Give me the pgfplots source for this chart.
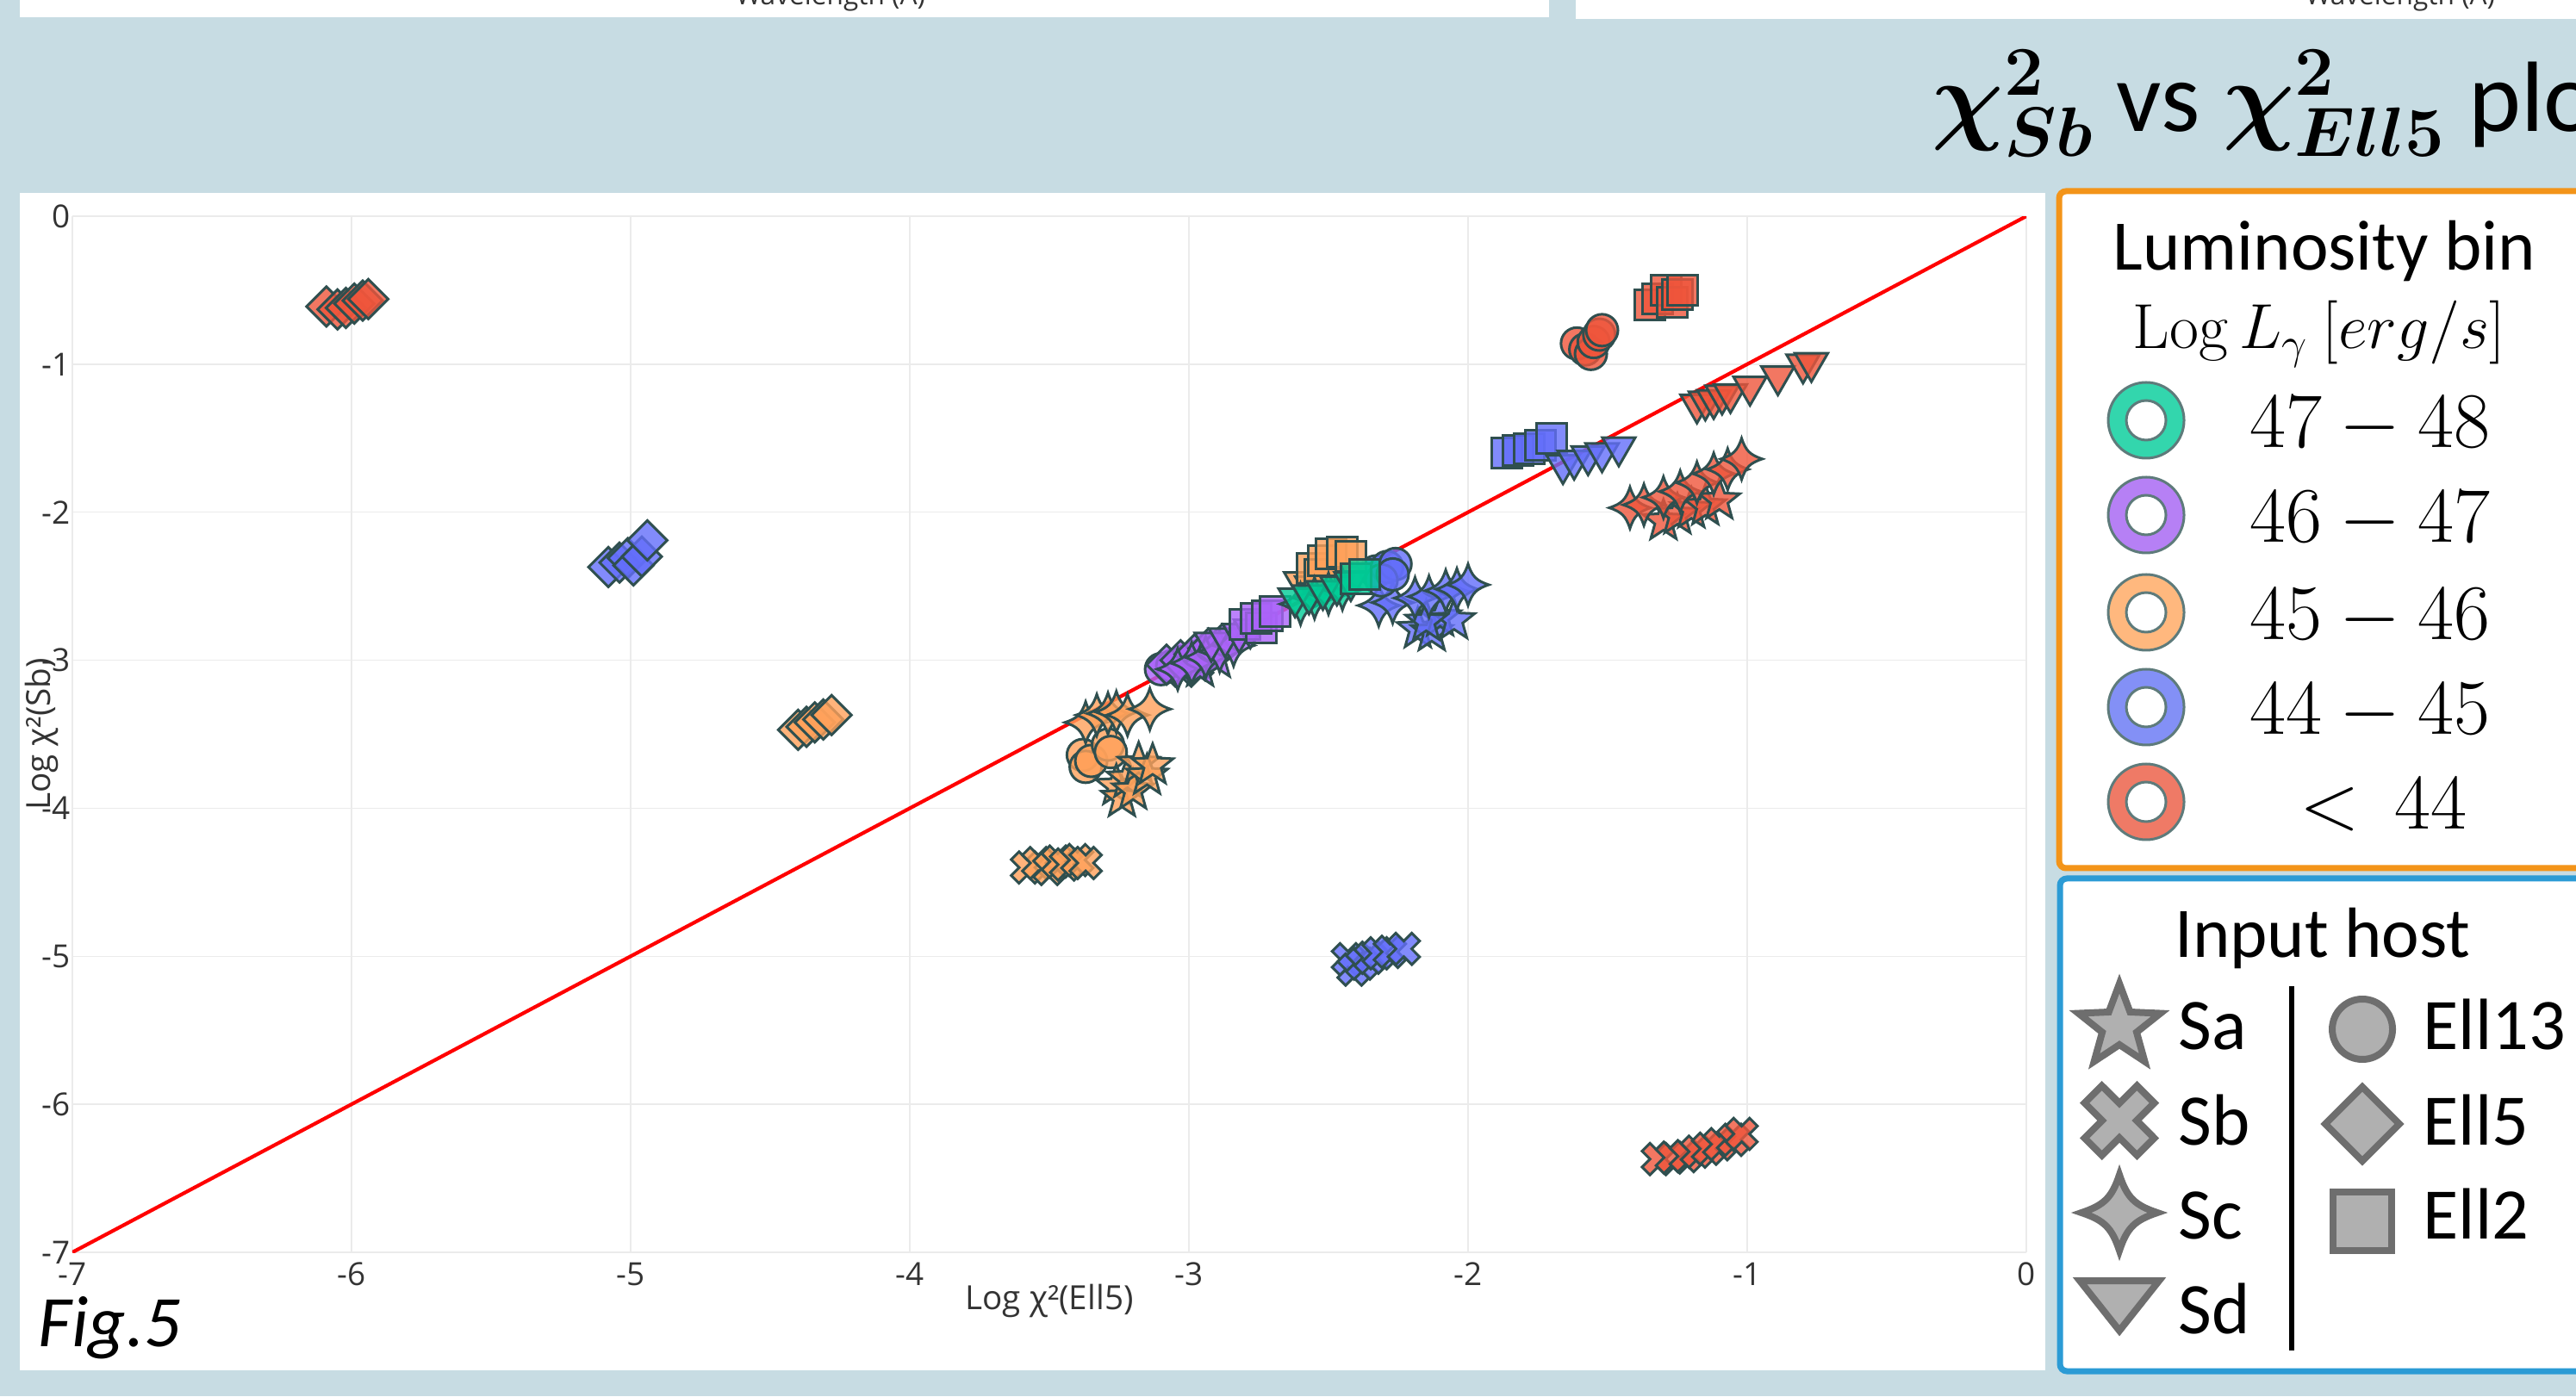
\documentclass[border=0pt]{standalone}
\usepackage{fix-cm}
\usepackage[no-math]{fontspec}
\setmainfont{Carlito}
\newfontfamily\opensans{Open Sans}
\usepackage{bm}
\usepackage{pgfplots}
\pgfplotsset{compat=1.18}

\definecolor{bg}{RGB}{199,220,227}
\definecolor{pgreen}{HTML}{00CC96}
\definecolor{ppurple}{HTML}{AB63FA}
\definecolor{porange}{HTML}{FFA15A}
\definecolor{pblue}{HTML}{636EFA}
\definecolor{pred}{HTML}{EF553B}
\definecolor{mline}{HTML}{2F4F4F}
\definecolor{lgreen}{HTML}{33D6AD}
\definecolor{lpurple}{HTML}{B680F5}
\definecolor{lorange}{HTML}{FFB87E}
\definecolor{lblue}{HTML}{8390F6}
\definecolor{lred}{HTML}{EF7A66}
\definecolor{ringline}{HTML}{5E7B7B}
\definecolor{hostfill}{HTML}{B0B0B0}
\definecolor{hostline}{HTML}{6E6E6E}
\definecolor{boxorange}{HTML}{F39419}
\definecolor{boxblue}{HTML}{2B9BD5}
\definecolor{gridc}{HTML}{EBEBEB}
\definecolor{tickc}{HTML}{333333}

% custom marks
\pgfdeclareplotmark{dmd}{%
  \pgfpathmoveto{\pgfqpoint{0pt}{\pgfplotmarksize}}%
  \pgfpathlineto{\pgfqpoint{\pgfplotmarksize}{0pt}}%
  \pgfpathlineto{\pgfqpoint{0pt}{-\pgfplotmarksize}}%
  \pgfpathlineto{\pgfqpoint{-\pgfplotmarksize}{0pt}}%
  \pgfpathclose\pgfusepathqfillstroke}
\pgfdeclareplotmark{tridown}{%
  \pgfpathmoveto{\pgfqpoint{0pt}{-\pgfplotmarksize}}%
  \pgfpathlineto{\pgfqpoint{0.866\pgfplotmarksize}{0.5\pgfplotmarksize}}%
  \pgfpathlineto{\pgfqpoint{-0.866\pgfplotmarksize}{0.5\pgfplotmarksize}}%
  \pgfpathclose\pgfusepathqfillstroke}
\pgfdeclareplotmark{fivestar}{%
  \pgfpathmoveto{\pgfqpoint{0pt}{\pgfplotmarksize}}%
  \pgfpathlineto{\pgfqpoint{-0.247\pgfplotmarksize}{0.340\pgfplotmarksize}}%
  \pgfpathlineto{\pgfqpoint{-0.951\pgfplotmarksize}{0.309\pgfplotmarksize}}%
  \pgfpathlineto{\pgfqpoint{-0.399\pgfplotmarksize}{-0.130\pgfplotmarksize}}%
  \pgfpathlineto{\pgfqpoint{-0.588\pgfplotmarksize}{-0.809\pgfplotmarksize}}%
  \pgfpathlineto{\pgfqpoint{0pt}{-0.42\pgfplotmarksize}}%
  \pgfpathlineto{\pgfqpoint{0.588\pgfplotmarksize}{-0.809\pgfplotmarksize}}%
  \pgfpathlineto{\pgfqpoint{0.399\pgfplotmarksize}{-0.130\pgfplotmarksize}}%
  \pgfpathlineto{\pgfqpoint{0.951\pgfplotmarksize}{0.309\pgfplotmarksize}}%
  \pgfpathlineto{\pgfqpoint{0.247\pgfplotmarksize}{0.340\pgfplotmarksize}}%
  \pgfpathclose\pgfusepathqfillstroke}
\pgfdeclareplotmark{fatx}{%
  \pgfpathmoveto{\pgfqpoint{-0.474\pgfplotmarksize}{0.940\pgfplotmarksize}}%
  \pgfpathlineto{\pgfqpoint{-0.940\pgfplotmarksize}{0.474\pgfplotmarksize}}%
  \pgfpathlineto{\pgfqpoint{-0.467\pgfplotmarksize}{0pt}}%
  \pgfpathlineto{\pgfqpoint{-0.940\pgfplotmarksize}{-0.474\pgfplotmarksize}}%
  \pgfpathlineto{\pgfqpoint{-0.474\pgfplotmarksize}{-0.940\pgfplotmarksize}}%
  \pgfpathlineto{\pgfqpoint{0pt}{-0.467\pgfplotmarksize}}%
  \pgfpathlineto{\pgfqpoint{0.474\pgfplotmarksize}{-0.940\pgfplotmarksize}}%
  \pgfpathlineto{\pgfqpoint{0.940\pgfplotmarksize}{-0.474\pgfplotmarksize}}%
  \pgfpathlineto{\pgfqpoint{0.467\pgfplotmarksize}{0pt}}%
  \pgfpathlineto{\pgfqpoint{0.940\pgfplotmarksize}{0.474\pgfplotmarksize}}%
  \pgfpathlineto{\pgfqpoint{0.474\pgfplotmarksize}{0.940\pgfplotmarksize}}%
  \pgfpathlineto{\pgfqpoint{0pt}{0.467\pgfplotmarksize}}%
  \pgfpathclose\pgfusepathqfillstroke}
\pgfdeclareplotmark{scstar}{%
  \pgfpathmoveto{\pgfqpoint{0pt}{\pgfplotmarksize}}%
  \pgfpathcurveto{\pgfqpoint{0.2\pgfplotmarksize}{0.4\pgfplotmarksize}}{\pgfqpoint{0.4\pgfplotmarksize}{0.2\pgfplotmarksize}}{\pgfqpoint{\pgfplotmarksize}{0pt}}%
  \pgfpathcurveto{\pgfqpoint{0.4\pgfplotmarksize}{-0.2\pgfplotmarksize}}{\pgfqpoint{0.2\pgfplotmarksize}{-0.4\pgfplotmarksize}}{\pgfqpoint{0pt}{-\pgfplotmarksize}}%
  \pgfpathcurveto{\pgfqpoint{-0.2\pgfplotmarksize}{-0.4\pgfplotmarksize}}{\pgfqpoint{-0.4\pgfplotmarksize}{-0.2\pgfplotmarksize}}{\pgfqpoint{-\pgfplotmarksize}{0pt}}%
  \pgfpathcurveto{\pgfqpoint{-0.4\pgfplotmarksize}{0.2\pgfplotmarksize}}{\pgfqpoint{-0.2\pgfplotmarksize}{0.4\pgfplotmarksize}}{\pgfqpoint{0pt}{\pgfplotmarksize}}%
  \pgfpathclose\pgfusepathqfillstroke}

\pgfplotsset{
  mk/.style={only marks, color=mline, line width=0.3mm, mark options={fill=#1, fill opacity=0.8, solid}},
  Ell13/.style={mark=*, mark size=1.85mm},
  Ell5/.style={mark=dmd, mark size=2.3mm},
  Ell2/.style={mark=square*, mark size=1.75mm},
  Sa/.style={mark=fivestar, mark size=2.5mm},
  Sb/.style={mark=fatx, mark size=1.95mm},
  Sc/.style={mark=scstar, mark size=2.4mm},
  Sd/.style={mark=tridown, mark size=2.2mm},
}

\begin{document}
\begin{tikzpicture}
\begin{scope}[x=0.1mm,y=0.1mm]
  \fill[bg] (0,0) rectangle (2990,1621);
  \fill[white] (23,1601) rectangle (1798,1621);
  \fill[white] (1829,1599) rectangle (2990,1621);
  \node[anchor=base, font=\opensans\fontsize{9}{10}\selectfont, text=tickc, inner sep=0] at (964,1615) {Wavelength (Å)};
  \node[anchor=base, font=\opensans\fontsize{9}{10}\selectfont, text=tickc, inner sep=0] at (2786,1615) {Wavelength (Å)};
  \fill[white] (23,30) rectangle (2374,1397);
  % title
  \node[anchor=base west, font=\fontsize{33}{38}\selectfont, inner sep=0] at (2242,1468)
    {$\bm{\chi}^{\bm{2}}_{\bm{Sb}}$ vs $\bm{\chi}^{\bm{2}}_{\bm{Ell5}}$ plot};
  \node[anchor=base west, font=\fontsize{24}{28}\selectfont\itshape, inner sep=0] at (44,58) {Fig.5};
\end{scope}

\begin{axis}[
  at={(8.4mm,16.7mm)}, anchor=south west,
  scale only axis, width=226.8mm, height=120.3mm,
  xmin=-7, xmax=0, ymin=-7, ymax=0,
  axis line style={draw=none},
  major tick length=0pt,
  grid=major, grid style={color=gridc, line width=0.15mm},
  xtick={-7,-6,-5,-4,-3,-2,-1,0}, ytick={-7,-6,-5,-4,-3,-2,-1,0},
  xticklabels={-7,-6,-5,-4,-3,-2,-1,0},
  yticklabels={-7,-6,-5,-4,-3,-2,-1,0},
  ticklabel style={font=\opensans\fontsize{10.5}{12}\selectfont, text=tickc},
  xticklabel style={anchor=north, inner sep=0pt, yshift=-1.1mm},
  yticklabel style={anchor=east, inner sep=0pt, xshift=-0.2mm},
  xlabel={Log χ²(Ell5)}, ylabel={Log χ²(Sb)},
  every axis x label/.style={at={(axis description cs:0.5,0)}, anchor=center, yshift=-5.6mm, font=\opensans\fontsize{11}{13}\selectfont, text=tickc},
  every axis y label/.style={at={(axis description cs:0,0.5)}, xshift=-3.6mm, anchor=center, rotate=90, font=\opensans\fontsize{11}{13}\selectfont, text=tickc},
]
% ---- < 44 (red)
\addplot[mk=pred, Ell5] coordinates {(-6.09,-0.61) (-6.05,-0.63) (-6.02,-0.62) (-5.99,-0.59) (-5.96,-0.57) (-5.94,-0.56)};
\addplot[mk=pred, Ell13] coordinates {(-1.61,-0.86) (-1.58,-0.90) (-1.56,-0.93) (-1.55,-0.85) (-1.53,-0.80) (-1.52,-0.77)};
\addplot[mk=pred, Ell2] coordinates {(-1.35,-0.60) (-1.32,-0.56) (-1.29,-0.50) (-1.27,-0.58) (-1.25,-0.53) (-1.23,-0.50)};
\addplot[mk=pred, Sd] coordinates {(-1.18,-1.27) (-1.15,-1.25) (-1.12,-1.24) (-1.09,-1.21) (-1.06,-1.20) (-0.99,-1.15) (-0.89,-1.08) (-0.80,-1.00) (-0.77,-0.99)};
\addplot[mk=pred, Sa] coordinates {(-1.30,-2.06) (-1.25,-2.02) (-1.20,-1.98) (-1.15,-1.96) (-1.10,-1.92)};
\addplot[mk=pred, Sc] coordinates {(-1.42,-1.97) (-1.37,-1.95) (-1.30,-1.90) (-1.24,-1.86) (-1.18,-1.80) (-1.12,-1.74) (-1.07,-1.71) (-1.02,-1.64)};
\addplot[mk=pred, Sb] coordinates {(-1.32,-6.37) (-1.27,-6.36) (-1.22,-6.35) (-1.18,-6.32) (-1.14,-6.30) (-1.10,-6.27) (-1.05,-6.24) (-1.02,-6.20)};
% ---- 44-45 (blue)
\addplot[mk=pblue, Ell5] coordinates {(-5.08,-2.37) (-5.04,-2.34) (-5.01,-2.31) (-4.99,-2.36) (-4.96,-2.30) (-4.94,-2.19)};
\addplot[mk=pblue, Sb] coordinates {(-2.43,-5.02) (-2.41,-5.09) (-2.38,-5.05) (-2.35,-5.01) (-2.32,-4.98) (-2.28,-4.97) (-2.23,-4.95)};
\addplot[mk=pblue, Ell2] coordinates {(-1.86,-1.60) (-1.82,-1.58) (-1.78,-1.57) (-1.74,-1.55) (-1.70,-1.50)};
\addplot[mk=pblue, Sd] coordinates {(-1.66,-1.68) (-1.62,-1.65) (-1.57,-1.62) (-1.52,-1.60) (-1.46,-1.56)};
\addplot[mk=pblue, Sa] coordinates {(-2.18,-2.79) (-2.13,-2.81) (-2.10,-2.71) (-2.05,-2.73) (-2.15,-2.74)};
\addplot[mk=pblue, Sc] coordinates {(-2.32,-2.63) (-2.27,-2.61) (-2.19,-2.58) (-2.14,-2.57) (-2.08,-2.53) (-2.04,-2.52) (-2.00,-2.49)};
\addplot[mk=pblue, Ell13] coordinates {(-2.33,-2.40) (-2.29,-2.37) (-2.26,-2.35) (-2.31,-2.46) (-2.27,-2.42)};
% ---- 45-46 (orange)
\addplot[mk=porange, Ell5] coordinates {(-4.40,-3.47) (-4.37,-3.45) (-4.34,-3.42) (-4.31,-3.40) (-4.28,-3.37)};
\addplot[mk=porange, Sb] coordinates {(-3.58,-4.40) (-3.54,-4.37) (-3.50,-4.41) (-3.47,-4.36) (-3.44,-4.38) (-3.40,-4.35) (-3.37,-4.37)};
\addplot[mk=porange, Ell13] coordinates {(-3.38,-3.64) (-3.37,-3.72) (-3.35,-3.68) (-3.29,-3.57) (-3.28,-3.62)};
\addplot[mk=porange, Sa] coordinates {(-3.26,-3.85) (-3.24,-3.93) (-3.22,-3.80) (-3.20,-3.88) (-3.18,-3.70) (-3.15,-3.78) (-3.13,-3.71)};
\addplot[mk=porange, Sc] coordinates {(-3.37,-3.42) (-3.33,-3.37) (-3.29,-3.36) (-3.26,-3.35) (-3.22,-3.37) (-3.14,-3.33)};
\addplot[mk=porange, Sd] coordinates {(-2.60,-2.47) (-2.56,-2.50) (-2.52,-2.46)};
\addplot[mk=porange, Ell2] coordinates {(-2.56,-2.38) (-2.53,-2.42) (-2.52,-2.33) (-2.49,-2.28) (-2.45,-2.27) (-2.42,-2.30)};
% ---- 46-47 (purple)
\addplot[mk=ppurple, Sb] coordinates {(-3.02,-3.07) (-2.97,-3.03)};
\addplot[mk=ppurple, Ell13] coordinates {(-3.10,-3.06) (-3.06,-3.04) (-3.02,-3.01) (-2.98,-2.98) (-2.94,-2.95)};
\addplot[mk=ppurple, Ell5] coordinates {(-3.08,-3.03) (-3.03,-3.00) (-2.98,-2.96) (-2.93,-2.92) (-2.88,-2.89)};
\addplot[mk=ppurple, Sa] coordinates {(-2.96,-3.05) (-2.90,-2.99)};
\addplot[mk=ppurple, Sc] coordinates {(-3.04,-3.06) (-2.99,-3.02) (-2.94,-2.98) (-2.89,-2.94) (-2.84,-2.90)};
\addplot[mk=ppurple, Sd] coordinates {(-2.92,-2.88) (-2.87,-2.85) (-2.82,-2.82) (-2.78,-2.79)};
\addplot[mk=ppurple, Ell2] coordinates {(-2.80,-2.76) (-2.74,-2.78) (-2.76,-2.72) (-2.72,-2.70) (-2.69,-2.67)};
% ---- 47-48 (green)
\addplot[mk=pgreen, Sc] coordinates {(-2.60,-2.62) (-2.55,-2.58) (-2.50,-2.55) (-2.45,-2.52)};
\addplot[mk=pgreen, Sd] coordinates {(-2.62,-2.58) (-2.57,-2.56) (-2.52,-2.53) (-2.47,-2.50) (-2.42,-2.47)};
\addplot[mk=pgreen, Ell2] coordinates {(-2.40,-2.45) (-2.37,-2.42)};
% one-to-one line
\addplot[red, line width=0.42mm, no marks] coordinates {(-7,-7) (0,0)};
\end{axis}

\begin{scope}[x=0.1mm,y=0.1mm]
  % luminosity legend
  \draw[boxorange, line width=0.7mm, fill=white, rounded corners=0.8mm] (2390,613) rectangle (3010,1399);
  \node[anchor=base, font=\fontsize{23.5}{28}\selectfont, inner sep=0] at (2698,1307) {Luminosity bin};
  \node[anchor=base, font=\fontsize{21}{25}\selectfont, inner sep=0] at (2692,1216) {$\mathrm{Log}\,L_{\gamma}\ [erg/s]$};
  \foreach \yy/\cc/\lab in {1133/lgreen/{47-48}, 1023/lpurple/{46-47}, 910/lorange/{45-46}, 800/lblue/{44-45}}{
    \draw[ringline, line width=0.3mm, fill=\cc] (2491,\yy) circle (4.4mm);
    \draw[ringline, line width=0.3mm, fill=white] (2491,\yy) circle (2.3mm);
    \node[anchor=base, font=\fontsize{26}{30}\selectfont, inner sep=0] at (2751,\yy-32) {$\lab$};
  }
  \draw[ringline, line width=0.3mm, fill=lred] (2491,690) circle (4.4mm);
  \draw[ringline, line width=0.3mm, fill=white] (2491,690) circle (2.3mm);
  \node[anchor=base, font=\fontsize{26}{30}\selectfont, inner sep=0] at (2766,658) {$<\,44$};
  % host legend
  \draw[boxblue, line width=0.7mm, fill=white, rounded corners=0.8mm] (2391,29) rectangle (3010,601);
  \node[anchor=base, font=\fontsize{23.5}{28}\selectfont, inner sep=0] at (2696,510) {Input host};
  \draw[black, line width=0.6mm] (2660,476) -- (2660,53);
  \tikzset{host/.style={fill=hostfill, draw=hostline, line width=0.8mm, line join=miter}}
  \begin{scope}[shift={(2460,429)}, scale=50]
    \draw[host] (0,1) -- (-0.247,0.340) -- (-0.951,0.309) -- (-0.399,-0.130) -- (-0.588,-0.809) -- (0,-0.42) -- (0.588,-0.809) -- (0.399,-0.130) -- (0.951,0.309) -- (0.247,0.340) -- cycle;
  \end{scope}
  \begin{scope}[shift={(2460,320)}, scale=43]
    \draw[host] (-0.474,0.940) -- (-0.940,0.474) -- (-0.467,0) -- (-0.940,-0.474) -- (-0.474,-0.940) -- (0,-0.467) -- (0.474,-0.940) -- (0.940,-0.474) -- (0.467,0) -- (0.940,0.474) -- (0.474,0.940) -- (0,0.467) -- cycle;
  \end{scope}
  \begin{scope}[shift={(2460,213)}, scale=44]
    \draw[host] (0,1) .. controls (0.2,0.4) and (0.4,0.2) .. (1,0) .. controls (0.4,-0.2) and (0.2,-0.4) .. (0,-1) .. controls (-0.2,-0.4) and (-0.4,-0.2) .. (-1,0) .. controls (-0.4,0.2) and (-0.2,0.4) .. (0,1) -- cycle;
  \end{scope}
  \draw[host] (2414,134) -- (2506,134) -- (2460,76) -- cycle;
  \draw[host] (2742,426) circle (3.5mm);
  \draw[host] (2742,359) -- (2785,316) -- (2742,273) -- (2699,316) -- cycle;
  \draw[host] (2708,169) rectangle (2776,237);
  \foreach \yy/\lab in {403/Sa, 292/Sb, 183/Sc, 73/Sd}{
    \node[anchor=base west, font=\fontsize{24}{28}\selectfont, inner sep=0] at (2528,\yy) {\lab};
  }
  \foreach \yy/\lab in {403/Ell13, 292/Ell5, 183/Ell2}{
    \node[anchor=base west, font=\fontsize{24}{28}\selectfont, inner sep=0] at (2812,\yy) {\lab};
  }
\end{scope}
\pgfresetboundingbox
\useasboundingbox (0,0) rectangle (299mm,162.1mm);
\end{tikzpicture}
\end{document}
